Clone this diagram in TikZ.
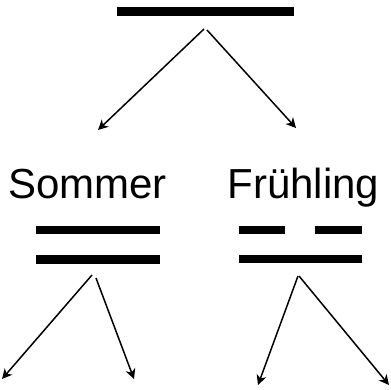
\documentclass[tikz,border=0pt]{standalone}
\usepackage{fontspec}
\setmainfont{Liberation Sans}
\usetikzlibrary{arrows.meta}

\tikzset{
  bar/.style={fill=black, inner sep=0pt, minimum height=8.5pt},
  season/.style={anchor=base, inner sep=0pt, font=\fontsize{42}{48}\selectfont},
  link/.style={black, line width=1.5pt, -{Stealth[length=10pt,width=10pt,inset=3pt]}}
}

\begin{document}
\begin{tikzpicture}[x=1pt,y=-1pt]
\useasboundingbox (0,0) rectangle (391,389);

% top line
\node[bar, minimum width=177pt] (root) at (205.5,11.5) {};
\coordinate (rootl) at (204,29);
\coordinate (rootr) at (207,30);
\coordinate (somtip) at (98,130);
\coordinate (fruetip) at (296,128);
\draw[link] (rootl) -- (somtip);
\draw[link] (rootr) -- (fruetip);

% labels
\node[season] (sommer) at (87.5,198) {Sommer};
\node[season] (fruehling) at (303.5,198) {Frühling};

% Sommer: two whole lines
\node[bar, minimum width=124pt] (som1) at (98,230) {};
\node[bar, minimum width=124pt] (som2) at (98,259.5) {};
\coordinate (soml) at (92,275);
\coordinate (somr) at (96,278);
\coordinate (somlt) at (2,379);
\coordinate (somrt) at (134,379);
\draw[link] (soml) -- (somlt);
\draw[link] (somr) -- (somrt);

% Fruehling: broken line over whole line
\node[bar, minimum width=46pt] (frue1a) at (262,230) {};
\node[bar, minimum width=47pt] (frue1b) at (338.5,230) {};
\node[bar, minimum width=123pt] (frue2) at (300.5,259) {};
\coordinate (fruel) at (298,276);
\coordinate (fruer) at (299,276);
\coordinate (fruelt) at (258,385);
\coordinate (fruert) at (389,385);
\draw[link] (fruel) -- (fruelt);
\draw[link] (fruer) -- (fruert);

\end{tikzpicture}
\end{document}
